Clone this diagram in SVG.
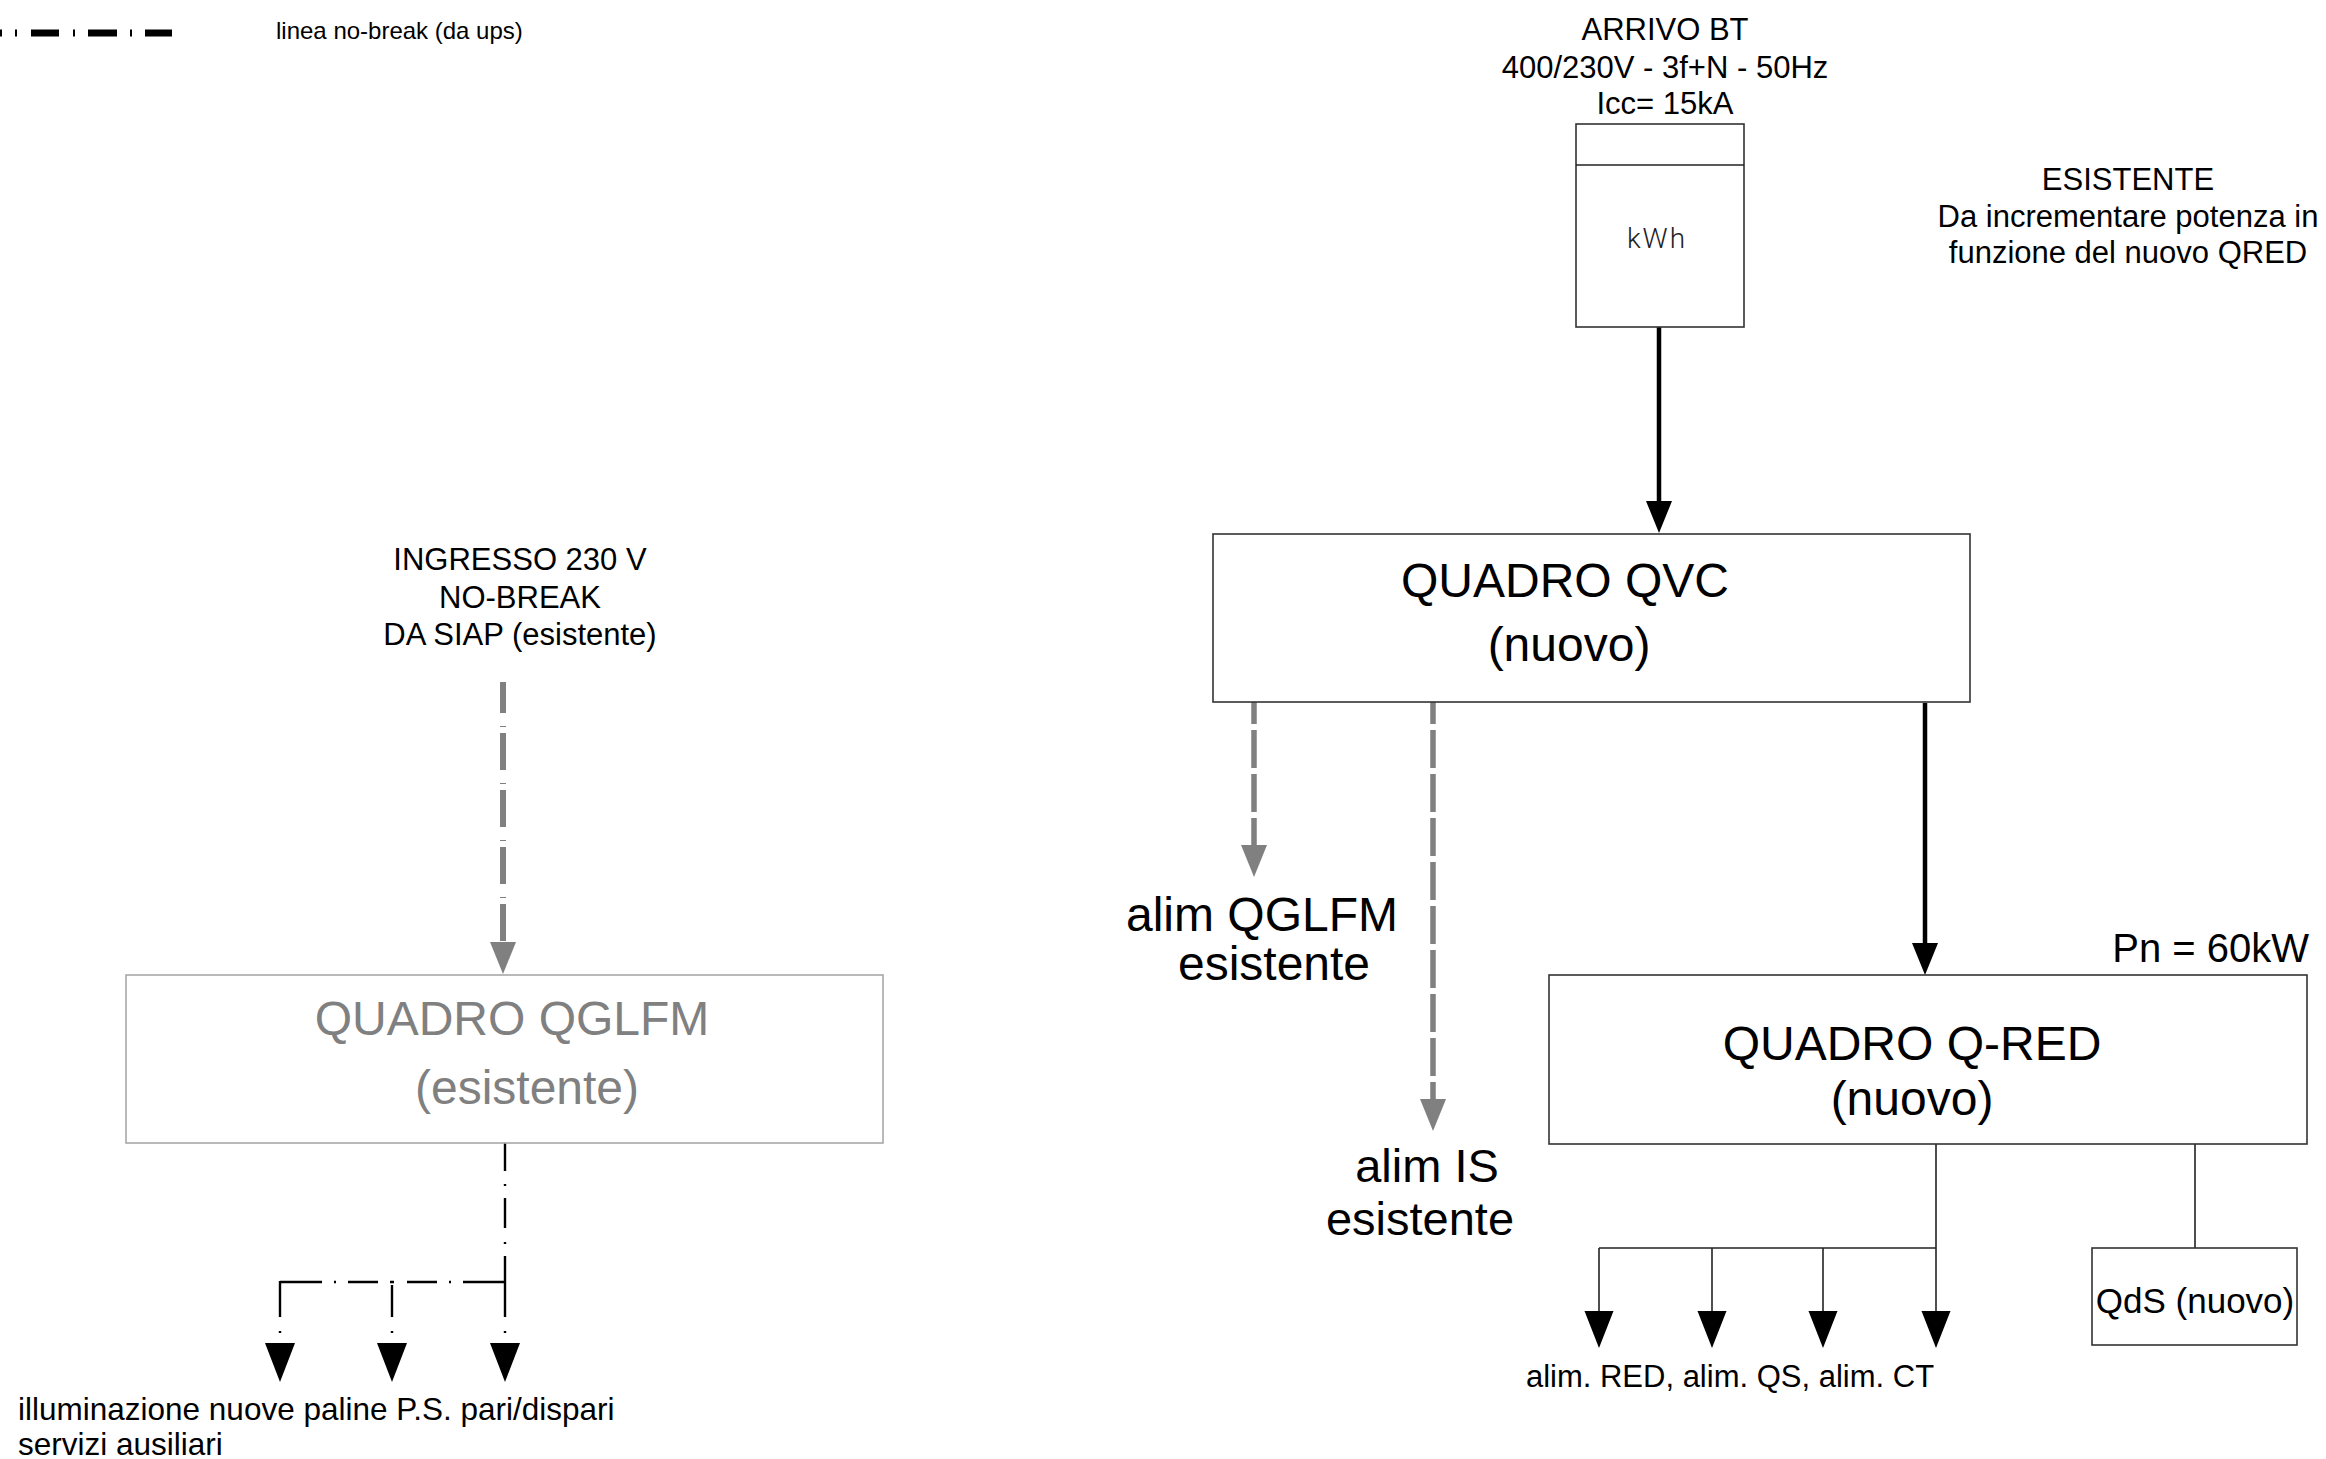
<svg xmlns="http://www.w3.org/2000/svg" width="2326" height="1459" viewBox="0 0 2326 1459">
<style>
  text { font-family: "Liberation Sans", Arial, sans-serif; fill: #000; }
  .c { text-anchor: middle; }
  .gray { fill: #808080; }
  .box { fill: #fff; stroke: #333; stroke-width: 1.6; }
  .boxg { fill: #fff; stroke: #a8a8a8; stroke-width: 1.6; }
  .thick { fill: none; stroke: #000; stroke-width: 4.5; }
  .thin { fill: none; stroke: #222; stroke-width: 1.6; }
  .gdash { fill: none; stroke: #808080; stroke-width: 5.5; stroke-dasharray: 38 6; }
  .gdashdot { fill: none; stroke: #808080; stroke-width: 6; stroke-dasharray: 37 13 1 6; }
  .dd { fill: none; stroke: #000; stroke-width: 2.4; }
  .legend { fill: none; stroke: #000; stroke-width: 7; }
  .ahb { fill: #000; }
</style>
<defs>
  <marker id="ah-black" markerUnits="userSpaceOnUse" orient="auto" refX="0" refY="0" markerWidth="40" markerHeight="40" overflow="visible">
    <path d="M0,-13 L32,0 L0,13 z" fill="#000"/>
  </marker>
  <marker id="ah-gray" markerUnits="userSpaceOnUse" orient="auto" refX="0" refY="0" markerWidth="40" markerHeight="40" overflow="visible">
    <path d="M0,-13 L32,0 L0,13 z" fill="#808080"/>
  </marker>
  <marker id="ah-big" markerUnits="userSpaceOnUse" orient="auto" refX="0" refY="0" markerWidth="50" markerHeight="50" overflow="visible">
    <path d="M0,-14.5 L37,0 L0,14.5 z" fill="#000"/>
  </marker>
</defs>

<!-- legend -->
<g id="legend">
  <path class="legend" d="M31,33 H59 M88,33 H117 M145,33 H172"/>
  <path class="legend" stroke-width="4" d="M0,33 H2 M15,33 H17 M73,33 H75 M130,33 H132"/>
  <text x="276" y="39" font-size="24">linea no-break (da ups)</text>
</g>

<!-- connectors -->
<g id="connectors">
  <line class="thick" x1="1659" y1="327" x2="1659" y2="501" marker-end="url(#ah-black)"/>
  <line class="thick" x1="1925" y1="703" x2="1925" y2="943" marker-end="url(#ah-black)"/>
  <line class="gdash" x1="1254" y1="700" x2="1254" y2="845" stroke-dashoffset="14" marker-end="url(#ah-gray)"/>
  <line class="gdash" x1="1433" y1="700" x2="1433" y2="1099" stroke-dashoffset="14" marker-end="url(#ah-gray)"/>
  <line class="gdashdot" x1="503" y1="682" x2="503" y2="942" stroke-dashoffset="6" marker-end="url(#ah-gray)"/>

  <!-- Q-RED outputs -->
  <path class="thin" d="M1936,1144 V1248 M1599,1248 H1936"/>
  <line class="thin" x1="1936" y1="1248" x2="1936" y2="1311" marker-end="url(#ah-big)"/>
  <line class="thin" x1="1599" y1="1248" x2="1599" y2="1311" marker-end="url(#ah-big)"/>
  <line class="thin" x1="1712" y1="1248" x2="1712" y2="1311" marker-end="url(#ah-big)"/>
  <line class="thin" x1="1823" y1="1248" x2="1823" y2="1311" marker-end="url(#ah-big)"/>
  <line class="thin" x1="2195" y1="1144" x2="2195" y2="1248"/>

  <!-- QGLFM outputs (dash-dot) -->
  <path class="dd" d="M505,1143 V1171 M505,1184 V1186 M505,1198 V1228 M505,1242 V1244 M505,1256 V1317 M505,1331 V1333"/>
  <path class="dd" d="M280,1282 H322 M334,1282 H336 M348,1282 H378 M390,1282 H394 M407,1282 H437 M449,1282 H451 M463,1282 H505"/>
  <path class="dd" d="M280,1281 V1317 M280,1331 V1333 M392,1285 V1317 M392,1331 V1333"/>
  <polygon class="ahb" points="265,1343 295,1343 280,1382"/>
  <polygon class="ahb" points="377,1343 407,1343 392,1382"/>
  <polygon class="ahb" points="490,1343 520,1343 505,1382"/>
</g>

<!-- supply -->
<g id="arrivo">
  <text class="c" x="1665" y="40" font-size="31">ARRIVO BT</text>
  <text class="c" x="1665" y="78" font-size="31">400/230V - 3f+N - 50Hz</text>
  <text class="c" x="1665" y="114" font-size="31">Icc= 15kA</text>
</g>

<g id="meter">
  <rect class="box" x="1576" y="124" width="168" height="203"/>
  <line class="thin" x1="1576" y1="165" x2="1744" y2="165" stroke="#333"/>
  <text class="c" x="1657" y="248" font-size="28" letter-spacing="2" style="font-family: Roboto, 'DejaVu Sans', sans-serif; font-weight: 300; fill: #222;">kWh</text>
</g>

<g id="note-esistente">
  <text class="c" x="2128" y="190" font-size="31">ESISTENTE</text>
  <text class="c" x="2128" y="227" font-size="31">Da incrementare potenza in</text>
  <text class="c" x="2128" y="263" font-size="31">funzione del nuovo QRED</text>
</g>

<g id="qvc">
  <rect class="box" x="1213" y="534" width="757" height="168"/>
  <text class="c" x="1565" y="597" font-size="48">QUADRO QVC</text>
  <text class="c" x="1569" y="661" font-size="48">(nuovo)</text>
</g>

<g id="alim-qglfm">
  <text class="c" x="1262" y="931" font-size="48">alim QGLFM</text>
  <text class="c" x="1274" y="980" font-size="48">esistente</text>
</g>

<g id="alim-is">
  <text class="c" x="1427" y="1182" font-size="47">alim IS</text>
  <text class="c" x="1420" y="1235" font-size="47">esistente</text>
</g>

<g id="qred">
  <text x="2309" y="962" font-size="40" text-anchor="end">Pn = 60kW</text>
  <rect class="box" x="1549" y="975" width="758" height="169"/>
  <text class="c" x="1912" y="1060" font-size="48">QUADRO Q-RED</text>
  <text class="c" x="1912" y="1115" font-size="48">(nuovo)</text>
</g>

<g id="qred-outputs-label">
  <text class="c" x="1730" y="1387" font-size="31">alim. RED, alim. QS, alim. CT</text>
</g>

<g id="qds">
  <rect class="box" x="2092" y="1248" width="205" height="97"/>
  <text class="c" x="2195" y="1313" font-size="35">QdS (nuovo)</text>
</g>

<g id="ingresso">
  <text class="c" x="520" y="570" font-size="31">INGRESSO 230 V</text>
  <text class="c" x="520" y="608" font-size="31">NO-BREAK</text>
  <text class="c" x="520" y="645" font-size="31">DA SIAP (esistente)</text>
</g>

<g id="qglfm">
  <rect class="boxg" x="126" y="975" width="757" height="168"/>
  <text class="c gray" x="512" y="1035" font-size="48">QUADRO QGLFM</text>
  <text class="c gray" x="527" y="1104" font-size="48">(esistente)</text>
</g>

<g id="qglfm-outputs-label">
  <text x="18" y="1420" font-size="31.5">illuminazione nuove paline P.S. pari/dispari</text>
  <text x="18" y="1455" font-size="31.5">servizi ausiliari</text>
</g>
</svg>
